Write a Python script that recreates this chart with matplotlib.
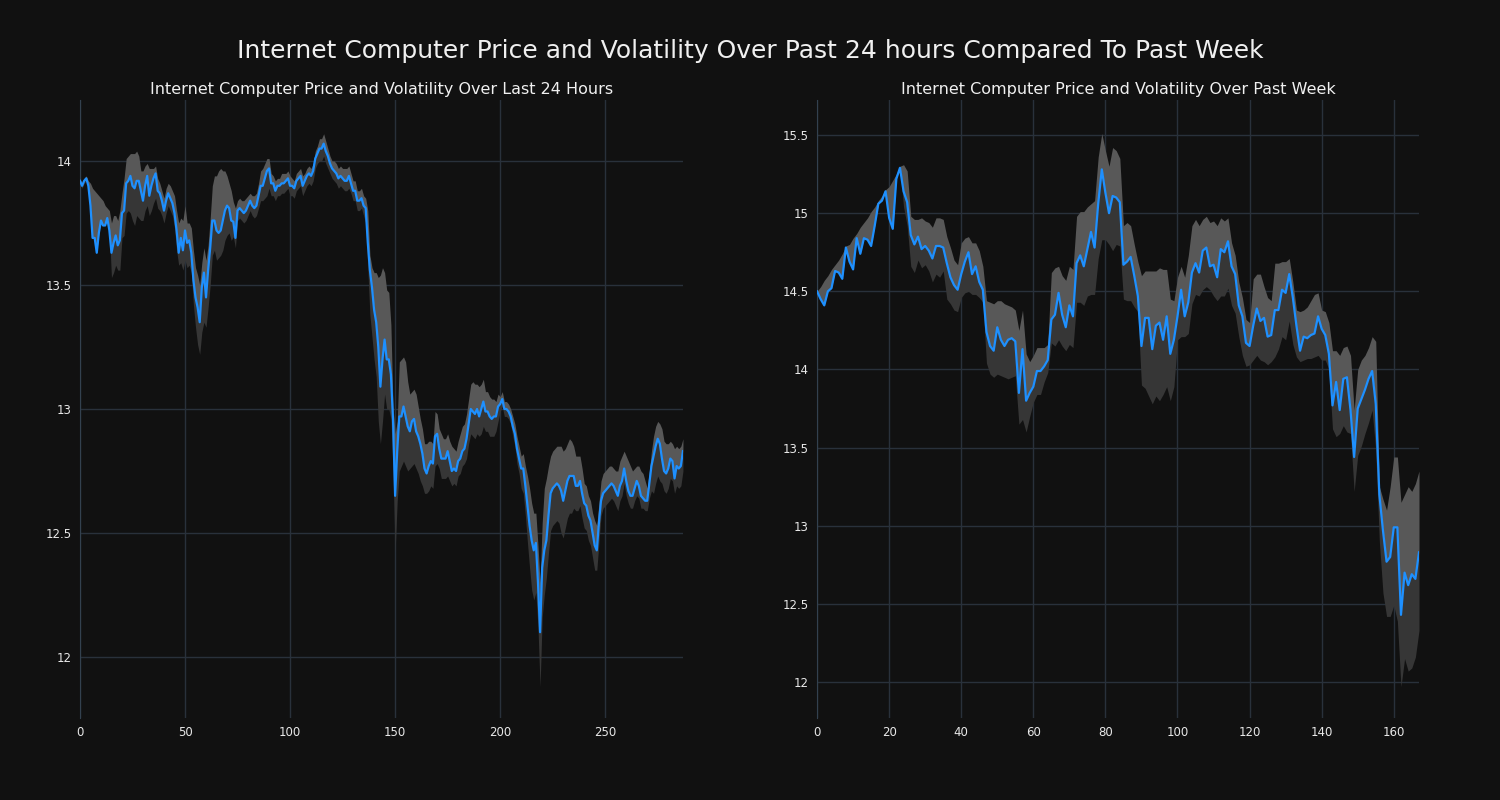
import numpy as np
import matplotlib
matplotlib.use("Agg")
from matplotlib import pyplot as plt
from matplotlib.ticker import FuncFormatter

# last 24 hours (5 min steps)
day_price = [
    13.92, 13.90, 13.92, 13.93, 13.90, 13.82, 13.69, 13.69, 13.63, 13.71,
    13.76, 13.74, 13.74, 13.77, 13.72, 13.63, 13.67, 13.70, 13.66, 13.68,
    13.79, 13.80, 13.91, 13.92, 13.94, 13.90, 13.89, 13.92, 13.92, 13.88,
    13.84, 13.90, 13.94, 13.86, 13.90, 13.93, 13.95, 13.88, 13.87, 13.84,
    13.80, 13.84, 13.87, 13.85, 13.83, 13.79, 13.72, 13.63, 13.69, 13.64,
    13.72, 13.67, 13.68, 13.63, 13.52, 13.45, 13.41, 13.35, 13.49, 13.55,
    13.45, 13.56, 13.65, 13.76, 13.76, 13.72, 13.71, 13.72, 13.76, 13.80,
    13.82, 13.81, 13.76, 13.755, 13.69, 13.80, 13.81, 13.80, 13.79, 13.80,
    13.82, 13.84, 13.82, 13.81, 13.82, 13.86, 13.90, 13.90, 13.93, 13.96,
    13.97, 13.91, 13.91, 13.88, 13.90, 13.90, 13.91, 13.91, 13.92, 13.93,
    13.90, 13.90, 13.89, 13.92, 13.93, 13.94, 13.90, 13.92, 13.94, 13.95,
    13.94, 13.96, 14.01, 14.03, 14.05, 14.05, 14.07, 14.04, 14.02, 13.99,
    13.97, 13.96, 13.95, 13.93, 13.94, 13.93, 13.92, 13.92, 13.94, 13.91,
    13.88, 13.88, 13.84, 13.84, 13.85, 13.82, 13.81, 13.67, 13.56, 13.49,
    13.40, 13.35, 13.25, 13.09, 13.20, 13.28, 13.20, 13.20, 13.14, 12.96,
    12.65, 12.83, 12.97, 12.97, 13.01, 12.97, 12.93, 12.91, 12.95, 12.96,
    12.91, 12.89, 12.86, 12.82, 12.76, 12.74, 12.77, 12.79, 12.78, 12.89,
    12.90, 12.84, 12.80, 12.80, 12.80, 12.83, 12.79, 12.75, 12.76, 12.75,
    12.79, 12.80, 12.83, 12.84, 12.88, 12.94, 13.00, 12.99, 12.98, 13.00,
    12.97, 13.00, 13.03, 12.99, 12.99, 12.97, 12.96, 12.97, 12.97, 13.01,
    13.02, 13.04, 13.00, 13.00, 12.99, 12.97, 12.93, 12.90, 12.84, 12.80,
    12.76, 12.76, 12.69, 12.61, 12.53, 12.47, 12.43, 12.46, 12.30, 12.10,
    12.36, 12.43, 12.47, 12.57, 12.66, 12.68, 12.69, 12.70, 12.69, 12.67,
    12.63, 12.67, 12.71, 12.73, 12.73, 12.73, 12.69, 12.69, 12.71, 12.66,
    12.62, 12.61, 12.57, 12.55, 12.50, 12.45, 12.43, 12.54, 12.63, 12.66,
    12.67, 12.68, 12.69, 12.70, 12.69, 12.67, 12.65, 12.69, 12.71, 12.76,
    12.71, 12.67, 12.65, 12.65, 12.68, 12.71, 12.69, 12.65, 12.64, 12.63,
    12.63, 12.70, 12.77, 12.81, 12.85, 12.88, 12.86, 12.80, 12.75, 12.74,
    12.76, 12.80, 12.79, 12.72, 12.77, 12.76, 12.77, 12.83,
]
day_vol_up = [
    0.01, 0.01, 0.01, 0.01, 0.02, 0.09, 0.20, 0.19, 0.24, 0.15,
    0.09, 0.10, 0.08, 0.04, 0.08, 0.12, 0.11, 0.08, 0.10, 0.12,
    0.08, 0.13, 0.10, 0.10, 0.09, 0.13, 0.14, 0.12, 0.10, 0.08,
    0.12, 0.08, 0.05, 0.11, 0.07, 0.04, 0.03, 0.05, 0.04, 0.04,
    0.05, 0.05, 0.04, 0.05, 0.05, 0.07, 0.08, 0.12, 0.08, 0.12,
    0.10, 0.08, 0.07, 0.10, 0.12, 0.12, 0.13, 0.15, 0.10, 0.10,
    0.15, 0.10, 0.12, 0.14, 0.18, 0.22, 0.25, 0.25, 0.20, 0.16,
    0.12, 0.10, 0.12, 0.08, 0.12, 0.04, 0.04, 0.04, 0.05, 0.05,
    0.04, 0.03, 0.04, 0.05, 0.05, 0.05, 0.06, 0.07, 0.06, 0.05,
    0.04, 0.04, 0.03, 0.04, 0.03, 0.03, 0.04, 0.04, 0.03, 0.03,
    0.04, 0.03, 0.03, 0.03, 0.03, 0.03, 0.04, 0.03, 0.03, 0.03,
    0.03, 0.03, 0.03, 0.03, 0.04, 0.04, 0.04, 0.04, 0.03, 0.03,
    0.03, 0.04, 0.04, 0.04, 0.04, 0.04, 0.05, 0.05, 0.04, 0.04,
    0.04, 0.04, 0.04, 0.04, 0.04, 0.04, 0.04, 0.13, 0.06, 0.08,
    0.15, 0.20, 0.28, 0.45, 0.37, 0.27, 0.28, 0.27, 0.20, 0.05,
    0.25, 0.12, 0.22, 0.23, 0.20, 0.22, 0.18, 0.15, 0.12, 0.12,
    0.15, 0.12, 0.10, 0.10, 0.10, 0.12, 0.10, 0.08, 0.08, 0.10,
    0.08, 0.08, 0.10, 0.08, 0.08, 0.07, 0.08, 0.10, 0.08, 0.08,
    0.08, 0.10, 0.10, 0.10, 0.10, 0.10, 0.10, 0.12, 0.12, 0.10,
    0.12, 0.10, 0.09, 0.08, 0.08, 0.08, 0.08, 0.07, 0.06, 0.05,
    0.03, 0.03, 0.03, 0.03, 0.03, 0.03, 0.04, 0.04, 0.05, 0.05,
    0.05, 0.06, 0.08, 0.12, 0.15, 0.15, 0.15, 0.12, 0.15, 0.20,
    0.18, 0.25, 0.25, 0.20, 0.15, 0.15, 0.15, 0.15, 0.16, 0.18,
    0.20, 0.17, 0.15, 0.15, 0.14, 0.12, 0.12, 0.12, 0.10, 0.10,
    0.08, 0.08, 0.08, 0.08, 0.08, 0.10, 0.10, 0.08, 0.08, 0.08,
    0.08, 0.08, 0.08, 0.07, 0.07, 0.08, 0.10, 0.10, 0.10, 0.07,
    0.10, 0.12, 0.12, 0.10, 0.08, 0.06, 0.08, 0.10, 0.10, 0.08,
    0.05, 0.05, 0.06, 0.08, 0.08, 0.07, 0.08, 0.12, 0.12, 0.12,
    0.10, 0.07, 0.07, 0.12, 0.08, 0.08, 0.08, 0.05,
]
day_vol_dn = [
    0.01, 0.01, 0.01, 0.01, 0.00, 0.00, 0.00, 0.00, 0.00, 0.00,
    0.00, 0.00, 0.00, 0.00, 0.00, 0.10, 0.12, 0.12, 0.10, 0.12,
    0.10, 0.10, 0.12, 0.12, 0.15, 0.14, 0.15, 0.14, 0.15, 0.12,
    0.08, 0.10, 0.12, 0.08, 0.10, 0.10, 0.10, 0.07, 0.07, 0.06,
    0.05, 0.05, 0.05, 0.05, 0.05, 0.06, 0.08, 0.05, 0.10, 0.08,
    0.12, 0.10, 0.10, 0.08, 0.10, 0.12, 0.15, 0.13, 0.18, 0.20,
    0.12, 0.15, 0.15, 0.14, 0.12, 0.12, 0.10, 0.10, 0.12, 0.12,
    0.12, 0.10, 0.08, 0.06, 0.04, 0.04, 0.04, 0.04, 0.04, 0.04,
    0.04, 0.04, 0.04, 0.04, 0.04, 0.05, 0.06, 0.06, 0.08, 0.10,
    0.08, 0.05, 0.05, 0.04, 0.04, 0.04, 0.04, 0.04, 0.04, 0.04,
    0.04, 0.04, 0.04, 0.04, 0.04, 0.04, 0.04, 0.04, 0.04, 0.04,
    0.04, 0.04, 0.04, 0.04, 0.05, 0.05, 0.05, 0.05, 0.05, 0.04,
    0.04, 0.04, 0.04, 0.04, 0.04, 0.04, 0.04, 0.04, 0.05, 0.04,
    0.04, 0.04, 0.04, 0.04, 0.04, 0.04, 0.06, 0.10, 0.18, 0.20,
    0.20, 0.22, 0.30, 0.23, 0.25, 0.22, 0.20, 0.20, 0.18, 0.20,
    0.23, 0.20, 0.22, 0.20, 0.22, 0.20, 0.18, 0.15, 0.18, 0.18,
    0.15, 0.15, 0.15, 0.13, 0.10, 0.08, 0.10, 0.10, 0.10, 0.12,
    0.12, 0.08, 0.08, 0.08, 0.08, 0.10, 0.08, 0.06, 0.06, 0.06,
    0.06, 0.06, 0.06, 0.06, 0.08, 0.08, 0.10, 0.10, 0.10, 0.10,
    0.08, 0.10, 0.10, 0.08, 0.08, 0.08, 0.07, 0.08, 0.06, 0.06,
    0.03, 0.03, 0.03, 0.03, 0.03, 0.03, 0.04, 0.05, 0.06, 0.06,
    0.08, 0.10, 0.12, 0.15, 0.17, 0.20, 0.20, 0.20, 0.18, 0.22,
    0.20, 0.18, 0.15, 0.15, 0.15, 0.15, 0.15, 0.15, 0.15, 0.17,
    0.15, 0.15, 0.15, 0.15, 0.15, 0.13, 0.10, 0.10, 0.10, 0.10,
    0.10, 0.10, 0.10, 0.10, 0.10, 0.10, 0.08, 0.08, 0.06, 0.06,
    0.06, 0.06, 0.06, 0.06, 0.06, 0.06, 0.06, 0.06, 0.06, 0.06,
    0.06, 0.05, 0.05, 0.05, 0.05, 0.06, 0.05, 0.05, 0.04, 0.04,
    0.04, 0.06, 0.10, 0.15, 0.15, 0.15, 0.15, 0.10, 0.08, 0.08,
    0.08, 0.08, 0.08, 0.06, 0.08, 0.08, 0.08, 0.08,
]

# past week (hourly)
week_price = [
    14.50, 14.45, 14.41, 14.50, 14.52, 14.63, 14.62, 14.58, 14.78, 14.69,
    14.64, 14.84, 14.74, 14.84, 14.83, 14.79, 14.92, 15.06, 15.08, 15.14,
    14.97, 14.90, 15.22, 15.29, 15.14, 15.07, 14.86, 14.80, 14.85, 14.77,
    14.79, 14.76, 14.71, 14.79, 14.79, 14.78, 14.68, 14.59, 14.54, 14.51,
    14.61, 14.69, 14.75, 14.61, 14.66, 14.56, 14.51, 14.24, 14.15, 14.12,
    14.27, 14.19, 14.15, 14.19, 14.20, 14.18, 13.85, 14.13, 13.80, 13.85,
    13.89, 13.99, 13.99, 14.02, 14.06, 14.32, 14.35, 14.49, 14.35, 14.27,
    14.41, 14.34, 14.68, 14.73, 14.66, 14.77, 14.88, 14.78, 15.06, 15.28,
    15.13, 15.00, 15.11, 15.10, 15.07, 14.67, 14.69, 14.72, 14.60, 14.47,
    14.15, 14.33, 14.33, 14.13, 14.28, 14.30, 14.19, 14.34, 14.10, 14.19,
    14.34, 14.51, 14.34, 14.43, 14.62, 14.68, 14.62, 14.76, 14.78, 14.66,
    14.67, 14.59, 14.77, 14.75, 14.82, 14.66, 14.61, 14.41, 14.34, 14.17,
    14.15, 14.28, 14.39, 14.31, 14.33, 14.21, 14.22, 14.38, 14.38, 14.51,
    14.49, 14.61, 14.46, 14.28, 14.12, 14.21, 14.20, 14.22, 14.23, 14.34,
    14.26, 14.22, 14.10, 13.77, 13.92, 13.74, 13.94, 13.95, 13.74, 13.44,
    13.75, 13.81, 13.87, 13.94, 13.99, 13.78, 13.20, 12.97, 12.77, 12.80,
    12.99, 12.99, 12.43, 12.70, 12.62, 12.69, 12.66, 12.83,
]
week_vol_up = [
    0.00, 0.08, 0.16, 0.10, 0.12, 0.04, 0.08, 0.16, 0.01, 0.11,
    0.20, 0.03, 0.17, 0.10, 0.14, 0.22, 0.12, 0.02, 0.03, 0.01,
    0.20, 0.31, 0.03, 0.01, 0.17, 0.20, 0.12, 0.16, 0.11, 0.20,
    0.16, 0.18, 0.20, 0.18, 0.18, 0.18, 0.17, 0.19, 0.16, 0.16,
    0.20, 0.15, 0.10, 0.20, 0.15, 0.20, 0.15, 0.20, 0.28, 0.30,
    0.17, 0.25, 0.27, 0.22, 0.20, 0.20, 0.40, 0.25, 0.30, 0.20,
    0.20, 0.15, 0.15, 0.12, 0.10, 0.30, 0.30, 0.17, 0.25, 0.30,
    0.25, 0.30, 0.30, 0.28, 0.35, 0.27, 0.18, 0.30, 0.30, 0.23,
    0.27, 0.30, 0.31, 0.30, 0.28, 0.25, 0.25, 0.20, 0.20, 0.22,
    0.45, 0.30, 0.30, 0.50, 0.35, 0.35, 0.45, 0.30, 0.35, 0.25,
    0.25, 0.15, 0.25, 0.30, 0.30, 0.28, 0.30, 0.20, 0.20, 0.28,
    0.28, 0.33, 0.20, 0.20, 0.15, 0.15, 0.12, 0.15, 0.12, 0.15,
    0.15, 0.30, 0.22, 0.30, 0.20, 0.25, 0.22, 0.30, 0.30, 0.18,
    0.20, 0.10, 0.10, 0.10, 0.25, 0.17, 0.20, 0.22, 0.25, 0.15,
    0.12, 0.15, 0.20, 0.35, 0.20, 0.35, 0.20, 0.20, 0.35, 0.30,
    0.25, 0.25, 0.22, 0.20, 0.22, 0.40, 0.05, 0.20, 0.33, 0.45,
    0.45, 0.45, 0.72, 0.50, 0.63, 0.53, 0.61, 0.52,
]
week_vol_dn = [
    0.00, 0.00, 0.00, 0.00, 0.00, 0.00, 0.00, 0.00, 0.00, 0.00,
    0.00, 0.00, 0.00, 0.00, 0.00, 0.00, 0.00, 0.00, 0.00, 0.00,
    0.00, 0.00, 0.00, 0.00, 0.10, 0.15, 0.20, 0.18, 0.15, 0.12,
    0.12, 0.13, 0.15, 0.18, 0.20, 0.15, 0.23, 0.17, 0.16, 0.14,
    0.15, 0.20, 0.25, 0.13, 0.18, 0.10, 0.08, 0.20, 0.18, 0.17,
    0.30, 0.23, 0.20, 0.25, 0.25, 0.22, 0.20, 0.45, 0.20, 0.15,
    0.10, 0.15, 0.15, 0.10, 0.08, 0.15, 0.20, 0.30, 0.20, 0.15,
    0.25, 0.20, 0.25, 0.30, 0.25, 0.30, 0.40, 0.30, 0.35, 0.45,
    0.30, 0.20, 0.35, 0.30, 0.28, 0.22, 0.25, 0.28, 0.20, 0.10,
    0.25, 0.45, 0.50, 0.35, 0.45, 0.50, 0.35, 0.45, 0.30, 0.30,
    0.15, 0.30, 0.13, 0.20, 0.20, 0.20, 0.15, 0.25, 0.25, 0.15,
    0.20, 0.15, 0.30, 0.28, 0.30, 0.25, 0.25, 0.20, 0.25, 0.15,
    0.12, 0.22, 0.30, 0.25, 0.28, 0.18, 0.17, 0.30, 0.25, 0.30,
    0.30, 0.30, 0.30, 0.20, 0.07, 0.15, 0.13, 0.15, 0.15, 0.25,
    0.20, 0.16, 0.10, 0.15, 0.35, 0.15, 0.30, 0.35, 0.15, 0.22,
    0.30, 0.30, 0.28, 0.28, 0.25, 0.30, 0.30, 0.40, 0.35, 0.38,
    0.50, 0.60, 0.46, 0.55, 0.55, 0.60, 0.50, 0.50,
]

assert len(day_price) == len(day_vol_up) == len(day_vol_dn) == 288
assert len(week_price) == len(week_vol_up) == len(week_vol_dn) == 168

bg = "#111111"
fig = plt.figure(figsize=(15, 8), dpi=100, facecolor=bg)
ax1 = fig.add_axes([0.0533, 0.1025, 0.402, 0.7725])
ax2 = fig.add_axes([0.5447, 0.1025, 0.4013, 0.7725])

fig.suptitle("Internet Computer Price and Volatility Over Past 24 hours Compared To Past Week",
             color="#f0f0f0", fontsize=18, y=0.936, va="center")

panels = [
    (ax1, day_price, day_vol_up, day_vol_dn,
     "Internet Computer Price and Volatility Over Last 24 Hours",
     range(0, 251, 50), [12, 12.5, 13, 13.5, 14], (11.754, 14.246)),
    (ax2, week_price, week_vol_up, week_vol_dn,
     "Internet Computer Price and Volatility Over Past Week",
     range(0, 161, 20), [12, 12.5, 13, 13.5, 14, 14.5, 15, 15.5], (11.77, 15.724)),
]

for ax, price, up, dn, title, xt, yt, ylim in panels:
    p = np.array(price)
    x = np.arange(len(p))
    ax.set_facecolor(bg)
    ax.fill_between(x, p, p + np.array(up), color="#585858", lw=0, zorder=2)
    ax.fill_between(x, p - np.array(dn), p, color="#363636", lw=0, zorder=2)
    ax.plot(x, p, color="#1e90ff", lw=1.6, zorder=3)
    ax.set_xlim(0, len(p) - 1)
    ax.set_ylim(*ylim)
    ax.set_xticks(list(xt))
    ax.set_yticks(yt)
    ax.yaxis.set_major_formatter(FuncFormatter(lambda v, _: f"{v:g}"))
    ax.grid(True, color="#29313b", lw=1, zorder=0)
    ax.set_axisbelow(True)
    ax.tick_params(length=0, colors="#e8e8e8", labelsize=8.5, pad=6)
    for s in ["top", "right", "bottom"]:
        ax.spines[s].set_visible(False)
    ax.spines["left"].set_color("#33414f")
    ax.set_title(title, color="#f0f0f0", fontsize=11.5, pad=4)

fig.savefig("out.png", dpi=100, facecolor=bg)
